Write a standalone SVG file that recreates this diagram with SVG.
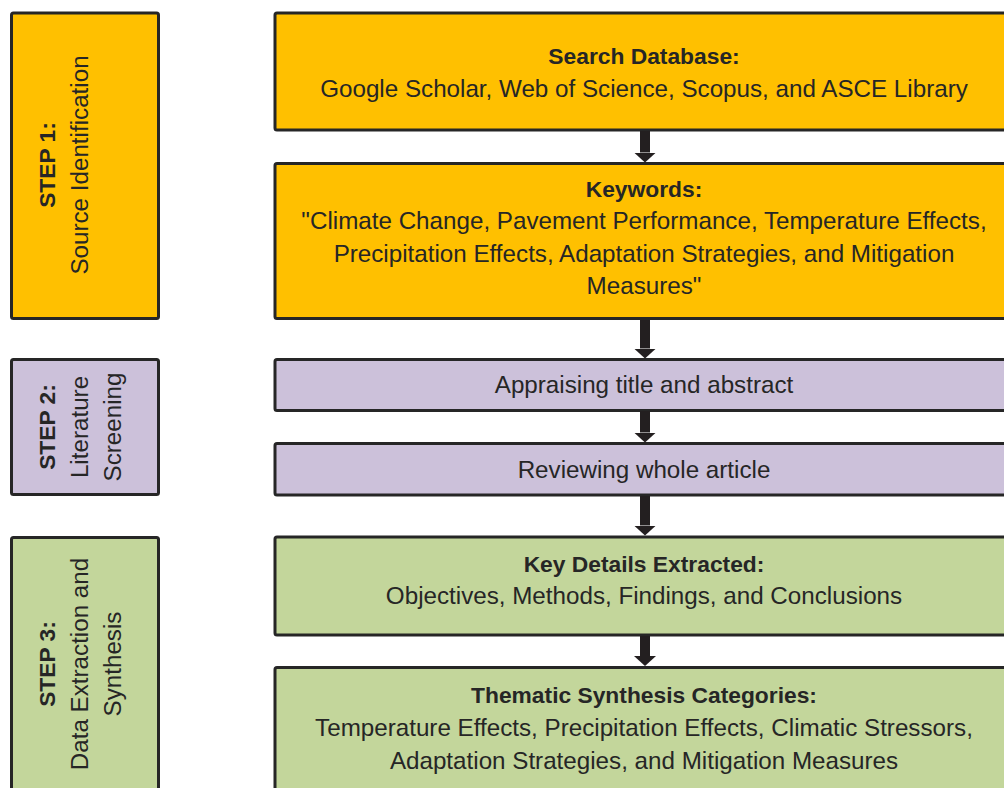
<svg xmlns="http://www.w3.org/2000/svg" width="1004" height="788" viewBox="0 0 1004 788">
<defs>
<style>
.box{stroke:#262626;stroke-width:3}
.or{fill:#FFC000}
.pu{fill:#CCC1DA}
.gr{fill:#C3D69B}
text{font-family:"Liberation Sans",Arial,sans-serif;font-size:24.2px;fill:#262626;text-anchor:middle}
.b{font-weight:bold;font-size:22.8px}
.conn{stroke:#231f20;stroke-width:10;fill:none}
</style>
<marker id="ah" viewBox="0 0 10 22" refX="0" refY="11" markerWidth="10" markerHeight="22" markerUnits="userSpaceOnUse" orient="auto">
<path d="M0,0 L10,11 L0,22 z" fill="#231f20"/>
</marker>
</defs>
<rect width="1004" height="788" fill="#fff"/>

<g id="step1">
<rect class="box or" x="11.5" y="13" width="147" height="305.5" rx="2"/>
<text class="b" transform="translate(55,165) rotate(-90)">STEP 1:</text>
<text transform="translate(88,165) rotate(-90)">Source Identification</text>
</g>
<g id="step2">
<rect class="box pu" x="11.5" y="359.5" width="147" height="135" rx="2"/>
<text class="b" transform="translate(55,427) rotate(-90)">STEP 2:</text>
<text transform="translate(88,427) rotate(-90)">Literature</text>
<text transform="translate(121,427) rotate(-90)">Screening</text>
</g>
<g id="step3">
<rect class="box gr" x="11.5" y="537.5" width="147" height="270" rx="2"/>
<text class="b" transform="translate(55,664) rotate(-90)">STEP 3:</text>
<text transform="translate(88,664) rotate(-90)">Data Extraction and</text>
<text transform="translate(121,664) rotate(-90)">Synthesis</text>
</g>

<g id="search">
<rect class="box or" x="275" y="13" width="760" height="117" rx="2"/>
<text class="b" x="644" y="64">Search Database:</text>
<text x="644" y="97">Google Scholar, Web of Science, Scopus, and ASCE Library</text>
</g>
<g id="keywords">
<rect class="box or" x="275" y="163.5" width="760" height="155" rx="2"/>
<text class="b" x="644" y="197">Keywords:</text>
<text x="644" y="229">"Climate Change, Pavement Performance, Temperature Effects,</text>
<text x="644" y="262">Precipitation Effects, Adaptation Strategies, and Mitigation</text>
<text x="644" y="294">Measures"</text>
</g>
<g id="appraising">
<rect class="box pu" x="275" y="359.5" width="760" height="51" rx="2"/>
<text x="644" y="393">Appraising title and abstract</text>
</g>
<g id="reviewing">
<rect class="box pu" x="275" y="443.5" width="760" height="51.5" rx="2"/>
<text x="644" y="478">Reviewing whole article</text>
</g>
<g id="keydetails">
<rect class="box gr" x="275" y="537" width="760" height="98" rx="2"/>
<text class="b" x="644" y="572">Key Details Extracted:</text>
<text x="644" y="604">Objectives, Methods, Findings, and Conclusions</text>
</g>
<g id="thematic">
<rect class="box gr" x="275" y="667.5" width="760" height="140" rx="2"/>
<text class="b" x="644" y="703">Thematic Synthesis Categories:</text>
<text x="644" y="736">Temperature Effects, Precipitation Effects, Climatic Stressors,</text>
<text x="644" y="769">Adaptation Strategies, and Mitigation Measures</text>
</g>

<g id="connectors">
<line class="conn" x1="645" y1="131" x2="645" y2="152.5" marker-end="url(#ah)"/>
<line class="conn" x1="645" y1="320" x2="645" y2="348.5" marker-end="url(#ah)"/>
<line class="conn" x1="645" y1="411" x2="645" y2="432.5" marker-end="url(#ah)"/>
<line class="conn" x1="645" y1="496" x2="645" y2="525.5" marker-end="url(#ah)"/>
<line class="conn" x1="645" y1="636" x2="645" y2="656" marker-end="url(#ah)"/>
</g>
</svg>
